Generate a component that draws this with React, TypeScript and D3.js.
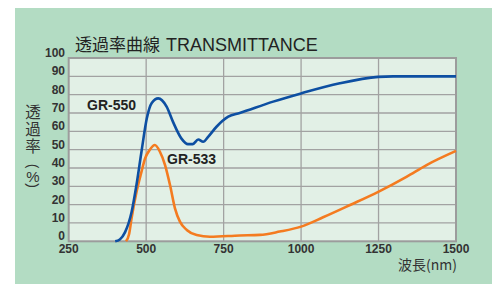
import React from 'react';
import * as d3 from 'd3';

// GR-550 (blue) transmittance readings, wavelength nm -> %
const gr550Wave = [400, 415, 432, 453, 469, 485, 502, 518, 539, 566, 587, 614, 635, 650, 668, 684, 700, 727, 765, 802, 910, 1000, 1125, 1249, 1297, 1400, 1500];
const gr550Value = [0, 1, 5, 16, 31, 49, 67, 75.5, 78, 73.5, 65, 56, 53, 53, 55.5, 54.3, 57, 62.5, 68, 70, 76.2, 80.7, 86.2, 89.7, 90, 90, 90];

// GR-533 (orange)
const gr533Wave = [435, 445, 453, 469, 485, 496, 512, 528, 544, 561, 577, 593, 609, 631, 663, 706, 802, 867, 931, 1000, 1071, 1158, 1249, 1340, 1405, 1500];
const gr533Value = [0, 4, 12.7, 27, 38, 45, 50, 52.5, 49, 41.6, 30.7, 18, 10.7, 6.2, 3.4, 2.5, 3.2, 3.5, 5.3, 8, 13.1, 19.8, 27, 35.2, 41.6, 49.3];

const xTicks = [250, 500, 750, 1000, 1250, 1500];
const yTicks = [0, 10, 20, 30, 40, 50, 60, 70, 80, 90, 100];

const W = 492;
const H = 284;
const left = 68.7, right = 456, top = 58, bottom = 241.3;

const latin = '"Liberation Sans", Arial, sans-serif';
const cjk = '"Noto Sans CJK JP", "Liberation Sans", sans-serif';

export default function App() {
  const x = d3.scaleLinear().domain([250, 1500]).range([left, right]);
  const y = d3.scaleLinear().domain([0, 100]).range([bottom, top]);

  const line = d3.line<[number, number]>()
    .x(d => x(d[0]))
    .y(d => y(d[1]))
    .curve(d3.curveMonotoneX);

  const blue = gr550Wave.map((w, i) => [w, gr550Value[i]] as [number, number]);
  const orange = gr533Wave.map((w, i) => [w, gr533Value[i]] as [number, number]);

  return (
    <svg width={W} height={H} style={{ position: 'absolute', left: 0, top: 0 }}>
      <rect x={0} y={0} width={W} height={H} fill="#ffffff" />
      <rect x={15} y={8} width={W - 15} height={H - 8} fill="#b3dcc3" />
      <rect x={left} y={top} width={right - left} height={bottom - top} fill="#e2f0e6" />

      {/* grid */}
      {yTicks.slice(1, -1).map(t => (
        <line key={'h' + t} x1={left} x2={right} y1={y(t)} y2={y(t)} stroke="#a2a2a2" strokeWidth={1.3} />
      ))}
      {xTicks.slice(1, -1).map(t => (
        <line key={'v' + t} x1={x(t)} x2={x(t)} y1={top} y2={bottom} stroke="#a2a2a2" strokeWidth={1.3} />
      ))}
      <rect x={left} y={top} width={right - left} height={bottom - top} fill="none" stroke="#9c9c9c" strokeWidth={2} />

      {/* curves */}
      <path d={line(orange) || ''} fill="none" stroke="#f47b20" strokeWidth={2.6} />
      <path d={line(blue) || ''} fill="none" stroke="#0d4fa2" strokeWidth={2.6} />

      {/* tick labels */}
      {yTicks.map(t => (
        <text key={'yl' + t} x={65} y={y(t) - 1} textAnchor="end" fontFamily={latin} fontWeight="bold" fontSize={12} fill="#333">
          {t}
        </text>
      ))}
      {xTicks.map(t => (
        <text key={'xl' + t} x={x(t)} y={253} textAnchor="middle" fontFamily={latin} fontWeight="bold" fontSize={12} fill="#333">
          {t}
        </text>
      ))}

      {/* title */}
      <text x={75} y={51} fill="#222">
        <tspan fontFamily={cjk} fontSize={17}>透過率曲線</tspan>
        <tspan fontFamily={latin} fontSize={18} dx={6}>TRANSMITTANCE</tspan>
      </text>

      {/* y axis title, written vertically */}
      <text x={33} y={104} fontFamily={cjk} fontSize={15.5} fill="#333" style={{ writingMode: 'vertical-rl', letterSpacing: '1.9px' }}>
        透過率
      </text>
      <text x={33} y={166} transform="rotate(90,33,166)" textAnchor="middle" dominantBaseline="central" fontFamily={latin} fontSize={14} fill="#333">(</text>
      <text x={33} y={181.5} textAnchor="middle" fontFamily={latin} fontSize={15} fill="#333">%</text>
      <text x={33} y={185.5} transform="rotate(90,33,185.5)" textAnchor="middle" dominantBaseline="central" fontFamily={latin} fontSize={14} fill="#333">)</text>

      <text x={457} y={270} textAnchor="end" fontFamily={cjk} fontSize={14} fill="#333">
        波長(nm)
      </text>

      {/* series labels */}
      <text x={87} y={110} fontFamily={latin} fontWeight="bold" fontSize={14} fill="#222">GR-550</text>
      <text x={167} y={164} fontFamily={latin} fontWeight="bold" fontSize={14} fill="#222">GR-533</text>
    </svg>
  );
}
